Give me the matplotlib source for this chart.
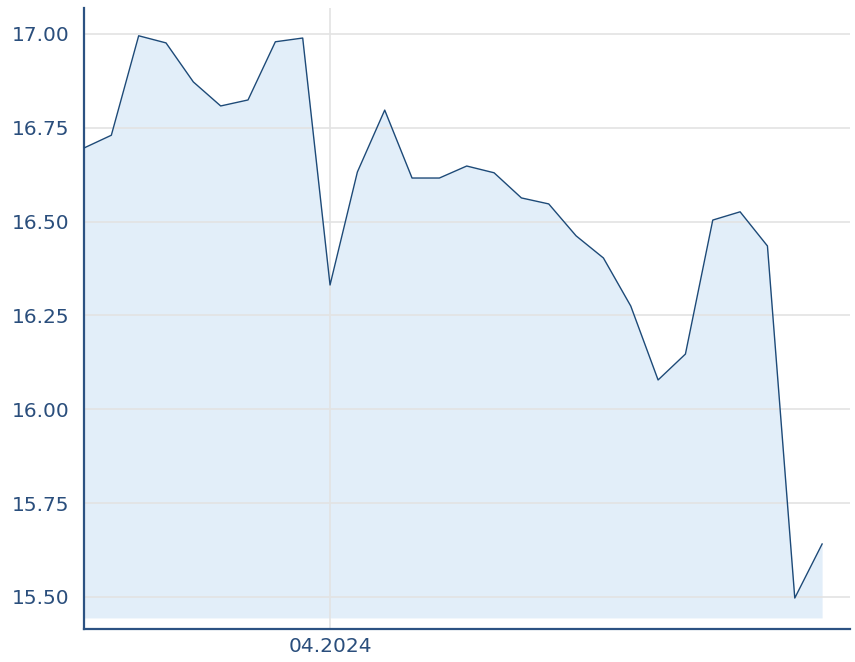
import matplotlib
matplotlib.use("Agg")
import matplotlib.pyplot as plt

values = [16.696, 16.730, 16.995, 16.976, 16.872, 16.808, 16.824, 16.979, 16.989,
          16.331, 16.632, 16.797, 16.616, 16.616, 16.648, 16.630, 16.563, 16.547,
          16.462, 16.403, 16.275, 16.078, 16.147, 16.504, 16.526, 16.435, 15.497, 15.641]
x_ticks = [9]
x_labels = ["04.2024"]
y_ticks = [15.50, 15.75, 16.00, 16.25, 16.50, 16.75, 17.00]
fill_base = 15.444

fig = plt.figure(figsize=(8.55, 6.62), dpi=100)
ax = fig.add_axes([84/855, 1-629/662, (850-84)/855, (629-8)/662])
xs = list(range(len(values)))
ax.fill_between(xs, values, fill_base, color="#e2eef9", lw=0, zorder=1)
ax.plot(xs, values, color="#1d4a78", lw=1.0, zorder=3)

ax.set_xlim(0, 28.02)
ax.set_ylim(15.4145, 17.069)
ax.set_yticks(y_ticks)
ax.set_yticklabels([f"{v:.2f}" for v in y_ticks])
ax.set_xticks(x_ticks)
ax.set_xticklabels(x_labels)
ax.grid(True, color="#e3e3e3", lw=1.2, zorder=2)
for s in ["top", "right"]:
    ax.spines[s].set_visible(False)
for s in ["left", "bottom"]:
    ax.spines[s].set_color("#2c5282")
    ax.spines[s].set_linewidth(1.6)
ax.tick_params(length=0, labelsize=14.5, colors="#2a4e7c")
ax.tick_params(axis="y", pad=10.5)
ax.tick_params(axis="x", pad=6)
for gl in ax.get_ygridlines() + ax.get_xgridlines():
    gl.set_zorder(2)
fig.savefig("out.png", dpi=100)
